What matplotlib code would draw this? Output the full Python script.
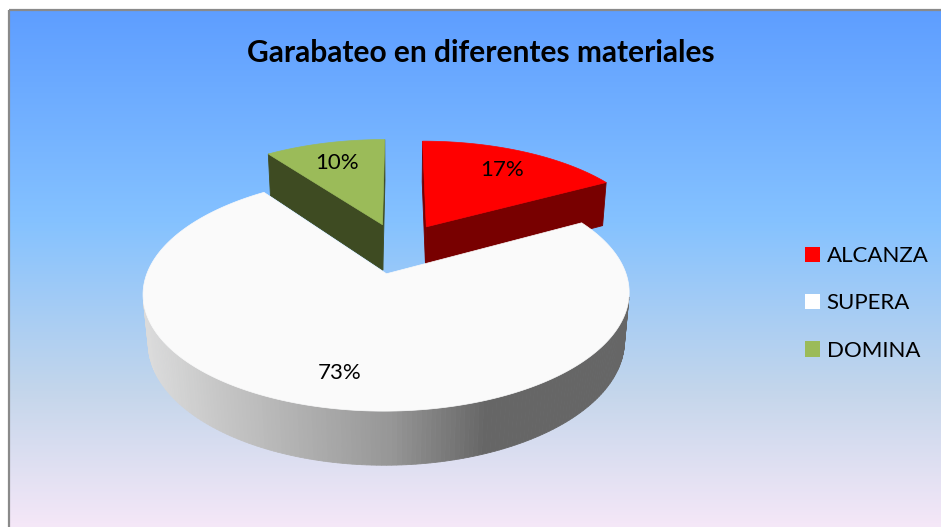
import numpy as np
import matplotlib
matplotlib.use("Agg")
import matplotlib.pyplot as plt
from matplotlib.patches import Polygon, Patch
from matplotlib.colors import LinearSegmentedColormap

# ---------------- data ----------------
title = "Garabateo en diferentes materiales"
categories = ["ALCANZA", "SUPERA", "DOMINA"]
values = [17, 73, 10]
top_colors = ["#FF0000", "#FAFAFA", "#9BBB59"]
side_colors = ["#780000", "#9A9A9A", "#3E4B22"]
legend_colors = ["#FF0000", "#FFFFFF", "#9BBB59"]

# ---------------- figure ----------------
W, H = 941, 527
fig = plt.figure(figsize=(W / 100, H / 100), dpi=100)
ax = fig.add_axes([0, 0, 1, 1])
fig.patch.set_facecolor("white")

# background gradient (chart area)
cmap = LinearSegmentedColormap.from_list(
    "daybreak", [(0, "#5E9EFF"), (0.39, "#85C2FF"), (0.70, "#C4D6EB"), (1.0, "#FFEBFA")])
grad = np.linspace(0, 1, 512).reshape(-1, 1)
ax.imshow(grad, cmap=cmap, extent=[9, 960, 555, 10], aspect="auto",
          zorder=0, interpolation="bilinear")
ax.plot([9, 9], [10, 600], color="#8A8A8A", lw=1.6, zorder=1, solid_capstyle="butt")
ax.plot([9, 1000], [10, 10], color="#8A8A8A", lw=1.6, zorder=1, solid_capstyle="butt")

ax.set_xlim(0, W)
ax.set_ylim(H, 0)
ax.axis("off")

# ---------------- 3D projection ----------------
S = 1268.0
SPHI = 0.459
CPHI = np.sqrt(1 - SPHI ** 2)
DIST = 5.5
X0, Y0 = 399.0, 248.0
THICK = 0.232
EXPLODE = 0.24
CAM = np.array([0.0, -DIST * CPHI, DIST * SPHI])


def proj(x, y, z):
    depth = DIST + y * CPHI - z * SPHI
    return X0 + S * x / depth, Y0 - S * (y * SPHI + z * CPHI) / depth


def wall_gray(xpix):
    return np.interp(xpix, [150, 230, 330, 390, 465, 485, 700],
                     [0.86, 0.77, 0.66, 0.59, 0.44, 0.40, 0.40])


total = float(sum(values))
fracs = [v / total for v in values]
starts = np.concatenate([[0], np.cumsum(fracs)[:-1]]) * 360
ends = np.cumsum(fracs) * 360

slices = []
for i in range(len(values)):
    ts, te = np.radians(starts[i]), np.radians(ends[i])
    tm = 0.5 * (ts + te)
    cx, cy = EXPLODE * np.sin(tm), EXPLODE * np.cos(tm)
    slices.append((cy, i, ts, te, tm, cx, cy))

# draw farther slices first
slices.sort(key=lambda s: -s[0])
z_order = 2
for _, i, ts, te, tm, cx, cy in slices:
    faces = []
    n = max(int(np.degrees(te - ts) / 1.0), 2)
    th = np.linspace(ts, te, n + 1)
    # outer wall
    for k in range(n):
        a, b = th[k], th[k + 1]
        m = 0.5 * (a + b)
        nrm = np.array([np.sin(m), np.cos(m), 0])
        cen = np.array([cx + np.sin(m), cy + np.cos(m), -THICK / 2])
        if np.dot(cen - CAM, nrm) < 0:
            pts = [(cx + np.sin(a), cy + np.cos(a), 0), (cx + np.sin(b), cy + np.cos(b), 0),
                   (cx + np.sin(b), cy + np.cos(b), -THICK), (cx + np.sin(a), cy + np.cos(a), -THICK)]
            P = [proj(*p) for p in pts]
            if i == 1:
                g = wall_gray(np.mean([p[0] for p in P]))
                col = (g, g, g)
            else:
                col = side_colors[i]
            depth = DIST + cen[1] * CPHI
            faces.append((depth, P, col))
    # cut faces
    for ang, nrm, col in [
        (ts, np.array([-np.cos(ts), np.sin(ts), 0]), side_colors[i]),
        (te, np.array([np.cos(te), -np.sin(te), 0]), side_colors[i]),
    ]:
        cen = np.array([cx + 0.5 * np.sin(ang), cy + 0.5 * np.cos(ang), -THICK / 2])
        if np.dot(cen - CAM, nrm) < 0:
            pts = [(cx, cy, 0), (cx + np.sin(ang), cy + np.cos(ang), 0),
                   (cx + np.sin(ang), cy + np.cos(ang), -THICK), (cx, cy, -THICK)]
            P = [proj(*p) for p in pts]
            faces.append((DIST + cen[1] * CPHI, P, col))
    faces.sort(key=lambda f: -f[0])
    for _, P, col in faces:
        ax.add_patch(Polygon(P, closed=True, facecolor=col, edgecolor=col,
                             lw=0.6, zorder=z_order, antialiased=True))
        z_order += 0.001
    # top face
    top = [proj(cx, cy, 0)] + [proj(cx + np.sin(t), cy + np.cos(t), 0) for t in th]
    ax.add_patch(Polygon(top, closed=True, facecolor=top_colors[i], edgecolor=top_colors[i],
                         lw=0.5, zorder=z_order))
    z_order += 0.01

# percentage labels
for i in range(len(values)):
    ts, te = np.radians(starts[i]), np.radians(ends[i])
    tm = 0.5 * (ts + te)
    cx, cy = EXPLODE * np.sin(tm), EXPLODE * np.cos(tm)
    lx, ly = proj(cx + 0.76 * np.sin(tm), cy + 0.76 * np.cos(tm), 0)
    ax.text(lx, ly + 8, f"{round(100 * fracs[i])}%", ha="center", va="baseline",
            fontsize=16, family="Lato", color="black", zorder=20)

# title
ax.text(481, 62, title, ha="center", va="baseline", fontsize=21.5,
        fontweight="bold", family="Lato", color="black", zorder=20)

# legend
handles = [Patch(facecolor=c, edgecolor="none") for c in legend_colors]
ax.legend(handles, categories, loc="upper left", bbox_to_anchor=(805, 246),
          bbox_transform=ax.transData, frameon=False, prop={"family": "Lato", "size": 16},
          handlelength=0.68, handleheight=0.68, handletextpad=0.3, labelspacing=1.23,
          borderpad=0, borderaxespad=0)

fig.savefig("out.png", dpi=100, facecolor="white")
